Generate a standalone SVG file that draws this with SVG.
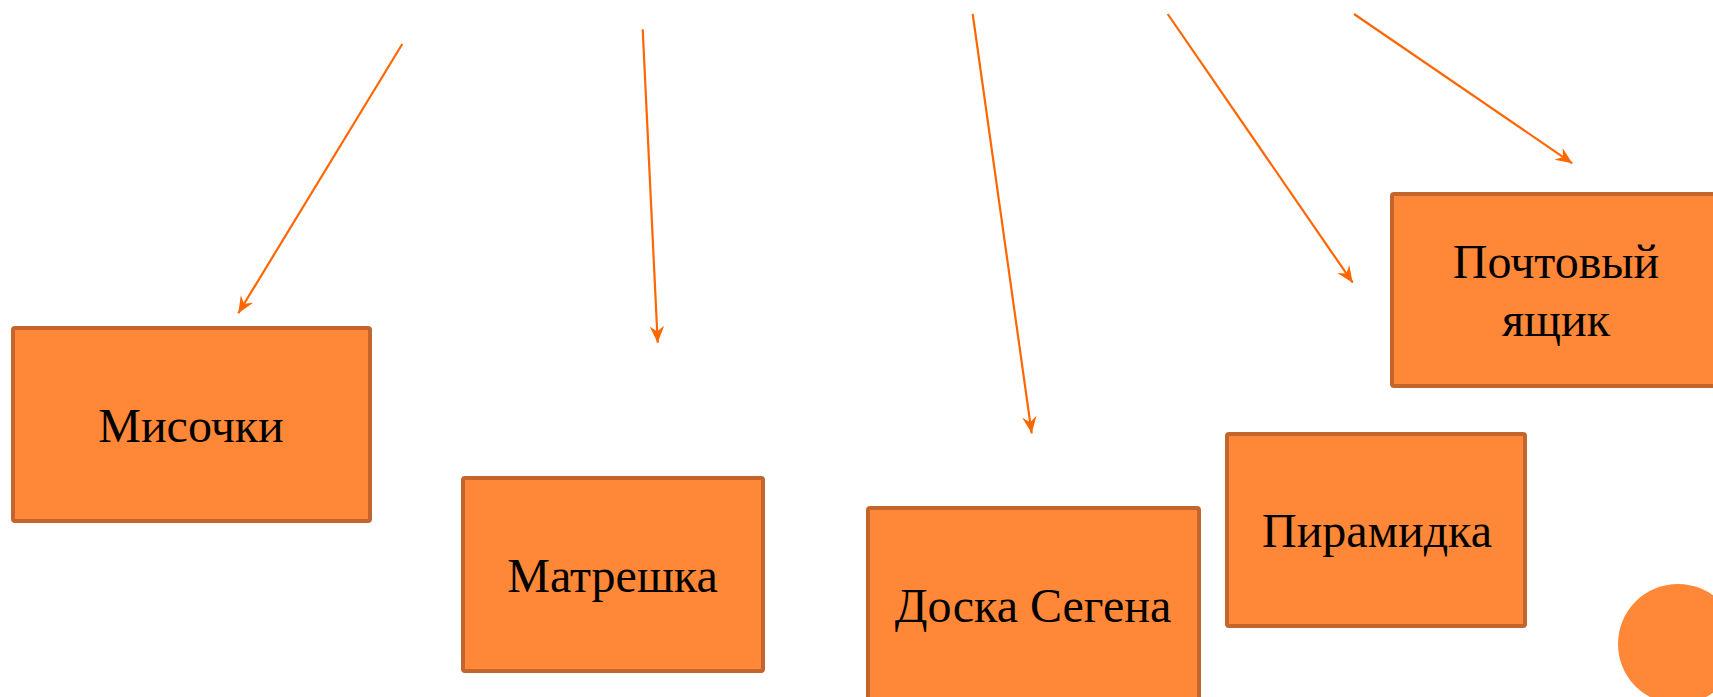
<svg xmlns="http://www.w3.org/2000/svg" width="1713" height="697" viewBox="0 0 1713 697">
<style>
.box{fill:#FE8738;stroke:#C4652D;stroke-width:4;}
.lbl{font-family:"Liberation Serif","Times New Roman",serif;font-size:48px;fill:#000;text-anchor:middle;}
.arr{stroke:#FF6600;stroke-width:2.2;fill:none;marker-end:url(#ah);}
</style>
<defs>
<marker id="ah" markerUnits="userSpaceOnUse" markerWidth="20" markerHeight="20" refX="0" refY="0" viewBox="-16 -8 18 16" orient="auto" overflow="visible">
<path d="M0,0 L-15,-6.5 L-10,0 L-15,6.5 Z" fill="#FF6600"/>
</marker>
</defs>
<rect width="1713" height="697" fill="#fff"/>
<g id="connectors">
<line class="arr" x1="402.3" y1="44" x2="238.3" y2="313.3"/>
<line class="arr" x1="642.7" y1="29.3" x2="657.7" y2="342.7"/>
<line class="arr" x1="972.7" y1="14" x2="1031.7" y2="433.3"/>
<line class="arr" x1="1167.7" y1="14" x2="1352.7" y2="282.7"/>
<line class="arr" x1="1354" y1="14" x2="1572.3" y2="163.3"/>
</g>
<g id="node-misochki">
<rect class="box" x="13" y="328" width="357" height="193" rx="2"/>
<text class="lbl" x="191" y="442">Мисочки</text>
</g>
<g id="node-matreshka">
<rect class="box" x="463" y="478" width="300" height="193" rx="2"/>
<text class="lbl" x="612.5" y="592">Матрешка</text>
</g>
<g id="node-doska">
<rect class="box" x="868" y="508" width="331" height="220" rx="2"/>
<text class="lbl" x="1033" y="622">Доска Сегена</text>
</g>
<g id="node-piramidka">
<rect class="box" x="1227" y="434" width="298" height="192" rx="2"/>
<text class="lbl" x="1377" y="547">Пирамидка</text>
</g>
<g id="node-pochtovy">
<rect class="box" x="1392" y="194" width="360" height="192" rx="2"/>
<text class="lbl" x="1556" y="278">Почтовый</text>
<text class="lbl" x="1556" y="336">ящик</text>
</g>
<g id="circle">
<circle cx="1678" cy="644" r="60" fill="#FE8738"/>
</g>
</svg>
